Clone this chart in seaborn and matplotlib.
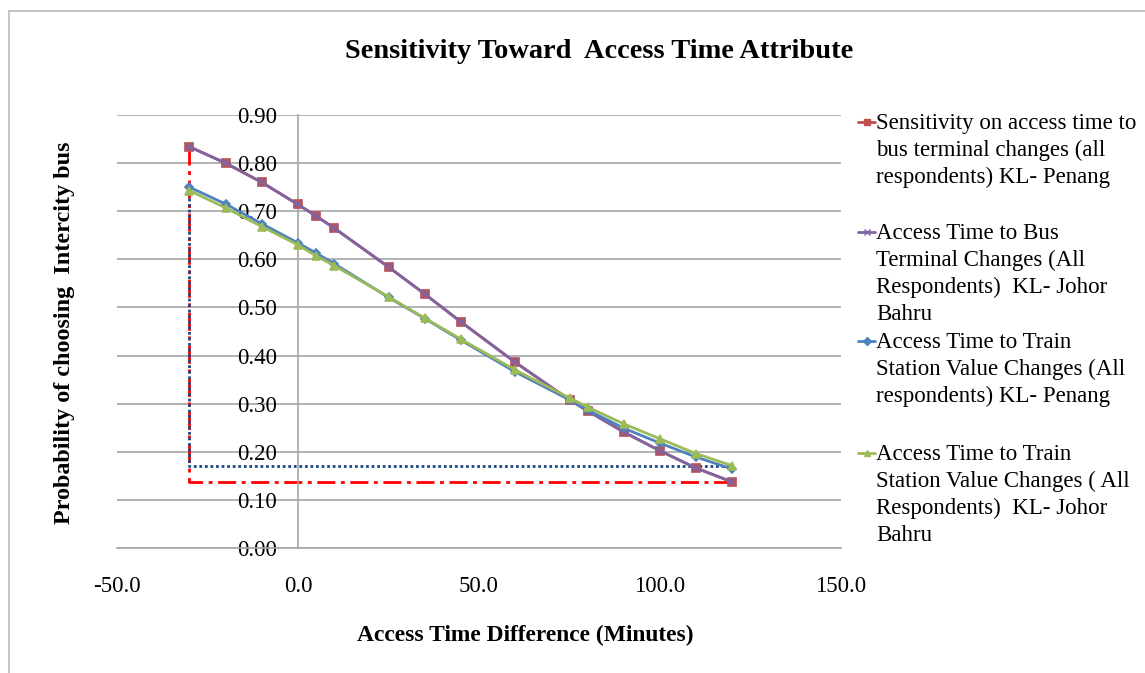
import matplotlib
matplotlib.use("Agg")
import matplotlib.pyplot as plt
import seaborn as sns
import pandas as pd
from matplotlib.lines import Line2D
from matplotlib.patches import Rectangle

sns.set_style("white")
plt.rcParams['font.family'] = ['Liberation Serif', 'DejaVu Serif']
plt.rcParams['text.color'] = 'black'
plt.rcParams['xtick.color'] = 'black'
plt.rcParams['ytick.color'] = 'black'

# ---- data ----
access_time_diff = [-30, -20, -10, 0, 5, 10, 25, 35, 45, 60, 75, 80, 90, 100, 110, 120]
bus_penang = [0.834, 0.800, 0.760, 0.714, 0.690, 0.665, 0.584, 0.528, 0.470, 0.386,
              0.308, 0.285, 0.241, 0.202, 0.166, 0.137]
bus_johor = [0.834, 0.800, 0.760, 0.714, 0.690, 0.665, 0.584, 0.528, 0.470, 0.386,
             0.308, 0.285, 0.241, 0.202, 0.166, 0.137]
train_penang = [0.750, 0.715, 0.674, 0.634, 0.613, 0.591, 0.521, 0.477, 0.432, 0.366,
                0.308, 0.287, 0.249, 0.218, 0.189, 0.164]
train_johor = [0.743, 0.707, 0.668, 0.630, 0.607, 0.587, 0.522, 0.478, 0.434, 0.370,
               0.312, 0.293, 0.258, 0.227, 0.196, 0.171]

ref_red_x = [-30, -30, 120]
ref_red_y = [0.834, 0.137, 0.137]
ref_blue_x = [-30, -30, 120]
ref_blue_y = [0.750, 0.170, 0.170]

labels = [
    "Sensitivity on access time to\nbus terminal changes (all\nrespondents) KL- Penang",
    "Access Time to Bus\nTerminal Changes (All\nRespondents)  KL- Johor\nBahru",
    "Access Time to Train\nStation Value Changes (All\nrespondents) KL- Penang",
    "Access Time to Train\nStation Value Changes ( All\nRespondents)  KL- Johor\nBahru",
]
x_ticks = [-50, 0, 50, 100, 150]
y_ticks = [0.0, 0.1, 0.2, 0.3, 0.4, 0.5, 0.6, 0.7, 0.8, 0.9]

C_RED = "#C0504D"
C_PURPLE = "#8064A2"
C_BLUE = "#4F81BD"
C_GREEN = "#9BBB59"
GRID = "#A6A6A6"
FS = 16.5

W, H = 1145, 673
fig = plt.figure(figsize=(W / 100, H / 100), dpi=100)
fig.patches.append(Rectangle((9 / W, -0.05), 1.2, 1 - 11 / H + 0.05, transform=fig.transFigure,
                             fill=False, edgecolor="#BFBFBF", linewidth=1.3))
ax = fig.add_axes([117 / W, 1 - 548 / H, (841 - 117) / W, (548 - 115) / H])

# reference lines
ax.plot(ref_red_x, ref_red_y, color="#FF0000", linestyle=(0, (6.5, 2, 1.4, 2)), linewidth=2.0, zorder=2)
ax.plot(ref_blue_x, ref_blue_y, color="#1F497D", linestyle=(0, (1, 1)), linewidth=2.0, zorder=2)

series = [
    (bus_penang, C_RED, "s", 6, C_RED),
    (bus_johor, C_PURPLE, "x", 6, C_PURPLE),
    (train_penang, C_BLUE, "D", 4.5, C_BLUE),
    (train_johor, C_GREEN, "^", 6, C_GREEN),
]
df = pd.DataFrame({"x": access_time_diff})
for i, (vals, col, mk, ms, mc) in enumerate(series):
    df["y"] = vals
    sns.lineplot(data=df, x="x", y="y", ax=ax, color=col, marker=mk, markersize=ms,
                 markeredgecolor=mc, markerfacecolor=mc, markeredgewidth=1.2,
                 linewidth=2.0, zorder=3 + i, legend=False)

ax.set_xlim(-50, 150)
ax.set_ylim(0, 0.9)
ax.set_xticks(x_ticks)
ax.set_xticklabels([f"{v:.1f}" for v in x_ticks])
ax.set_yticks(y_ticks)
ax.set_yticklabels([f"{v:.2f}" for v in y_ticks])
ax.yaxis.grid(True, color=GRID, linewidth=1.2)
ax.xaxis.grid(False)
ax.set_axisbelow(True)
for s in ["top", "right"]:
    ax.spines[s].set_visible(False)
ax.spines["left"].set_position(("data", 0))
ax.spines["left"].set_color(GRID)
ax.spines["left"].set_linewidth(1.2)
ax.spines["bottom"].set_color(GRID)
ax.spines["bottom"].set_linewidth(1.2)
ax.tick_params(axis="x", length=0, pad=20, labelsize=FS)
ax.tick_params(axis="y", length=0, pad=15, labelsize=FS)
ax.set_xlabel("")
ax.set_ylabel("")

fig.text(599 / W, 1 - 52 / H, "Sensitivity Toward  Access Time Attribute", ha="center", va="center",
         fontsize=20.4, fontweight="bold")
fig.text(525 / W, 1 - 635 / H, "Access Time Difference (Minutes)", ha="center", va="center",
         fontsize=16.9, fontweight="bold")
fig.text(65 / W, 1 - 333 / H, "Probability of choosing  Intercity bus", ha="center", va="center",
         rotation=90, fontsize=17.4, fontweight="bold")

# legend (marker aligned with first line as in the original)
tops = [122, 232, 341, 453]
for (vals, col, mk, ms, mc), lab, ty in zip(series, labels, tops):
    fig.text(876 / W, 1 - (ty - 9) / H, lab, ha="left", va="top", fontsize=FS, linespacing=1.36)
    yy = 1 - ty / H
    fig.add_artist(Line2D([858 / W, 866.5 / W, 875 / W], [yy, yy, yy], transform=fig.transFigure,
                          color=col, linewidth=2.0, marker=mk, markersize=ms * 0.8, markevery=[1],
                          markerfacecolor=mc, markeredgecolor=mc))

fig.savefig("out.png", dpi=100)
